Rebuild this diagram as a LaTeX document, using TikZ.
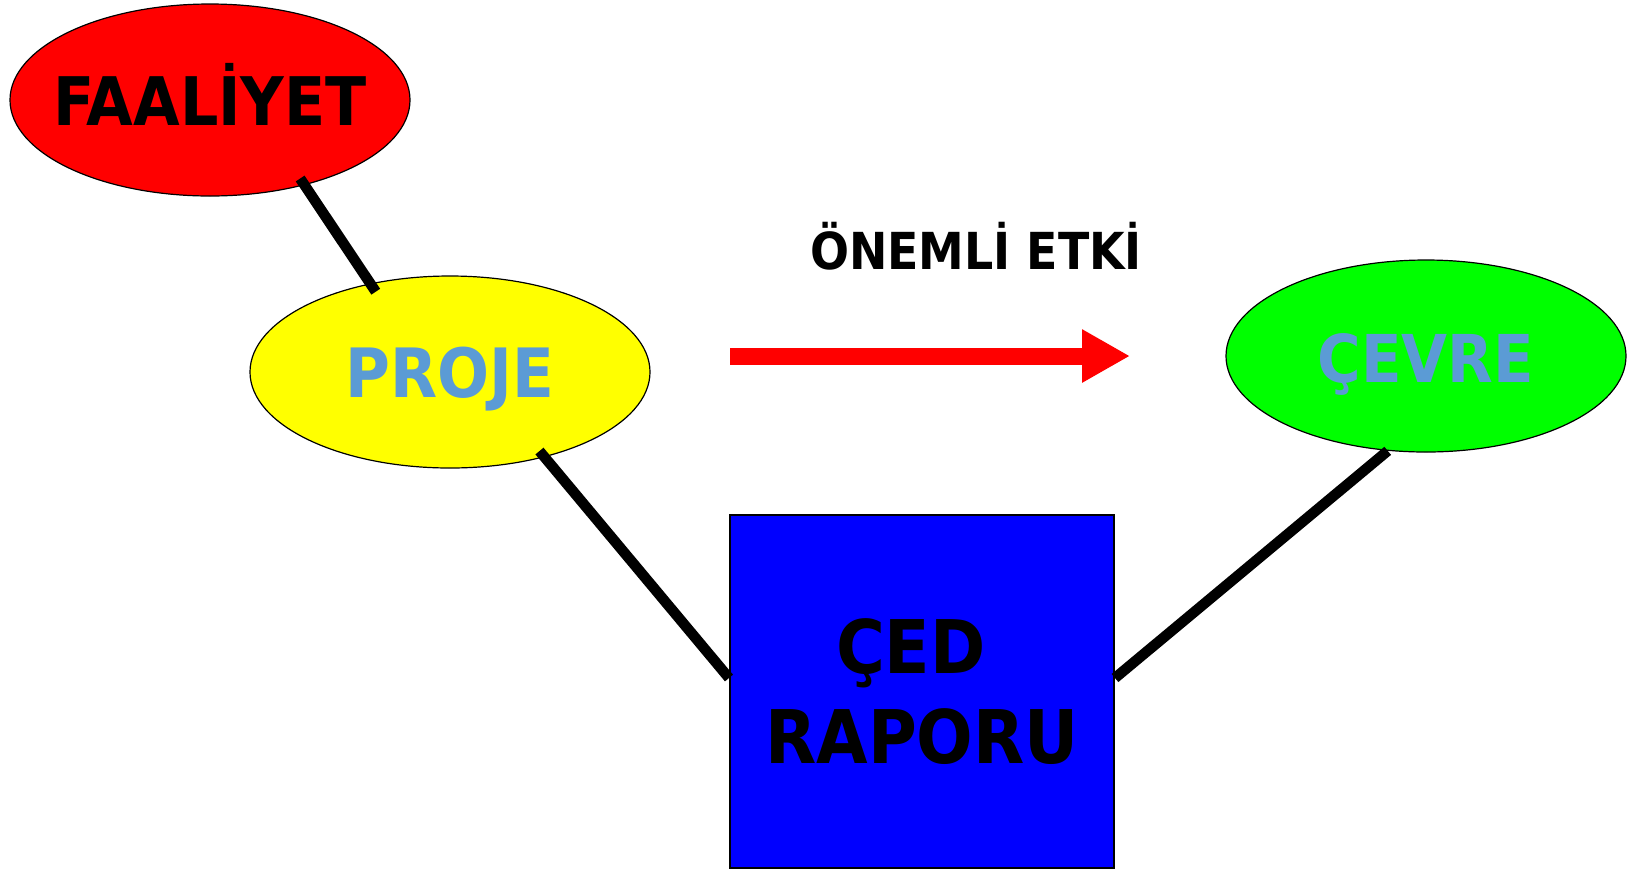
\documentclass[tikz,border=0pt]{standalone}
\usepackage{fontspec}
\setmainfont{DejaVu Sans}
\newfontfamily\cedfont{DejaVu Sans Condensed Bold}
\usetikzlibrary{shapes.geometric,arrows.meta}
\definecolor{textblue}{HTML}{5B9BD5}
\definecolor{faaliyetred}{RGB}{255,0,0}
\definecolor{projeyellow}{RGB}{255,255,0}
\definecolor{cevregreen}{RGB}{0,255,0}
\definecolor{cedblue}{RGB}{0,0,255}
\tikzset{
  blob/.style={ellipse,draw,line width=0.6pt,minimum width=200pt,minimum height=96pt,inner sep=0pt},
  link/.style={line width=5.25pt},
  word/.style={font=\cedfont\fontsize{34}{40}\selectfont,anchor=base,inner sep=0pt}
}
\begin{document}
\begin{tikzpicture}[x=0.5pt,y=-0.5pt]
\useasboundingbox (0,0) rectangle (1632,869);
\node (faaliyet) [blob,fill=faaliyetred] at (210,100) {};
\node (proje) [blob,fill=projeyellow] at (450,372) {};
\node (cevre) [blob,fill=cevregreen] at (1426,356) {};
\node (ced) [draw,line width=1pt,fill=cedblue,minimum width=192pt,minimum height=176.5pt,
  align=center,font=\cedfont\fontsize{37}{45}\selectfont] at (922,691.5) {ÇED\hspace*{0.3em}\\RAPORU};

\node (faaliyettext) [word,font=\cedfont\fontsize{33.5}{40}\selectfont] at (210,125) {FAALİYET};
\node (projetext) [word,text=textblue] at (450,397.5) {PROJE};
\node (cevretext) [word,font=\cedfont\fontsize{33}{40}\selectfont,text=textblue] at (1426,382) {ÇEVRE};
\node (etki) [word,font=\cedfont\fontsize{25.5}{30}\selectfont] at (976,269.5) {ÖNEMLİ ETKİ};

\coordinate (etkistart) at (730,356);
\coordinate (etkiend) at (1130,356);
\draw [-{Triangle[length=24pt,width=25pt]},faaliyetred,line width=8.5pt] (etkistart) -- (etkiend);

\begin{scope}[link]
    \draw [shorten <=-4pt,shorten >=-5pt] (faaliyet.-42) -- (proje.132);
    \draw [shorten <=-4pt] (proje.-42) -- (ced.176);
    \draw (ced.4) -- (cevre.-112);
\end{scope}
\end{tikzpicture}
\end{document}
